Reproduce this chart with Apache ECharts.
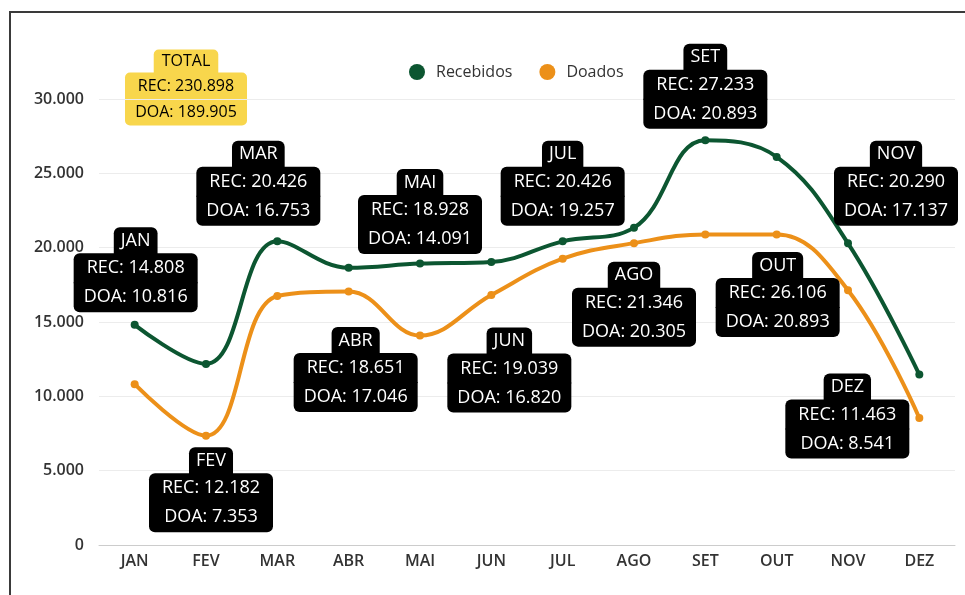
<!DOCTYPE html>
<html>
<head>
    <meta charset="utf-8">
    <title>Recebidos x Doados</title>
    <script src="https://cdn.jsdelivr.net/npm/echarts@6/dist/echarts.min.js"></script>
    <style>
        body { margin: 0; background: #fff; }
    </style>
</head>
<body>
    <div id="main" style="width: 965px;height:595px;"></div>
    <script type="text/javascript">
        var months = ['JAN', 'FEV', 'MAR', 'ABR', 'MAI', 'JUN', 'JUL', 'AGO', 'SET', 'OUT', 'NOV', 'DEZ'];
        var recebidos = [14808, 12182, 20426, 18651, 18928, 19039, 20426, 21346, 27233, 26106, 20290, 11463];
        var doados = [10816, 7353, 16753, 17046, 14091, 16820, 19257, 20305, 20893, 20893, 17137, 8541];

        // onde fica cada etiqueta: série que a carrega, posição, distância, deslocamento
        var labelLayout = [
            { s: 'rec', pos: 'top', d: 9, off: [1, 0] },
            { s: 'doa', pos: 'bottom', d: 8, off: [5, 0] },
            { s: 'rec', pos: 'top', d: 12, off: [-19, 0] },
            { s: 'doa', pos: 'bottom', d: 32, off: [7, 0] },
            { s: 'rec', pos: 'top', d: 6, off: [0, 0] },
            { s: 'doa', pos: 'bottom', d: 29, off: [18, 0] },
            { s: 'rec', pos: 'top', d: 12, off: [0, 0] },
            { s: 'doa', pos: 'bottom', d: 15, off: [0, 0] },
            { s: 'rec', pos: 'top', d: 8, off: [0, 0] },
            { s: 'doa', pos: 'bottom', d: 14, off: [1, 0] },
            { s: 'rec', pos: 'top', d: 14, off: [48, 0] },
            { s: 'doa', pos: 'inside', d: 0, off: [-72, -2] }
        ];

        var GREEN = '#0c5631';
        var ORANGE = '#ec9019';
        var FONT = "'Open Sans', sans-serif";

        function fmt(n) {
            return String(n).replace(/\B(?=(\d{3})+(?!\d))/g, '.');
        }
        function sum(arr) {
            return arr.reduce(function (a, b) { return a + b; }, 0);
        }

        // o fundo de cada linha é 1px mais alto que a linha para não deixar frestas
        var labelRich = {
            h: {
                color: '#fff', fontSize: 18, fontFamily: FONT, lineHeight: 26, height: 27,
                backgroundColor: '#000', padding: [0, 7], borderRadius: [6, 6, 0, 0]
            },
            a: {
                color: '#fff', fontSize: 18, fontFamily: FONT, lineHeight: 29, height: 30, width: 104, align: 'center',
                backgroundColor: '#000', padding: [0, 10], borderRadius: [6, 6, 0, 0]
            },
            b: {
                color: '#fff', fontSize: 18, fontFamily: FONT, lineHeight: 29, height: 30, width: 104, align: 'center',
                backgroundColor: '#000', padding: [0, 10], borderRadius: [0, 0, 6, 6]
            }
        };

        function labelText(p) {
            var i = p.dataIndex;
            return '{h|' + months[i] + '}\n{a|REC: ' + fmt(recebidos[i]) + '}\n{b|DOA: ' + fmt(doados[i]) + '}';
        }

        function buildData(values, key) {
            return values.map(function (v, i) {
                var l = labelLayout[i];
                if (l.s !== key) return v;
                return {
                    value: v,
                    label: { show: true, position: l.pos, distance: l.d, offset: l.off }
                };
            });
        }

        var myChart = echarts.init(document.getElementById('main'));

        var option = {
            animation: false,
            textStyle: { fontFamily: FONT },
            legend: {
                left: 404,
                top: 59,
                icon: 'circle',
                itemWidth: 28,
                itemHeight: 16,
                itemGap: 27,
                textStyle: { fontSize: 16, color: '#333', fontFamily: FONT }
            },
            grid: { left: 99, right: 10, top: 99, bottom: 50 },
            xAxis: {
                type: 'category',
                data: months,
                axisLine: { lineStyle: { color: '#ccc' } },
                axisTick: { show: false },
                axisLabel: { color: '#333', fontSize: 16, fontWeight: 600, margin: 8, fontFamily: FONT }
            },
            yAxis: {
                type: 'value',
                min: 0,
                max: 30000,
                interval: 5000,
                axisLabel: {
                    color: '#333', fontSize: 16, fontWeight: 600, margin: 15, fontFamily: FONT,
                    formatter: function (v) { return fmt(v); }
                },
                splitLine: { lineStyle: { color: '#ececec' } }
            },
            graphic: [
                {
                    type: 'rect',
                    shape: { x: 10, y: 12, width: 1200, height: 800 },
                    style: { fill: 'none', stroke: '#3a3a3a', lineWidth: 2 },
                    silent: true
                },
                {
                    type: 'text',
                    x: 186,
                    y: 50,
                    style: {
                        text: '{t|TOTAL}\n{r|REC: ' + fmt(sum(recebidos)) + '}\n{s|DOA: ' + fmt(sum(doados)) + '}',
                        align: 'center',
                        verticalAlign: 'top',
                        rich: {
                            t: {
                                color: '#5a4a16', fontSize: 16, fontFamily: FONT, lineHeight: 23, height: 24,
                                backgroundColor: '#f8d64c', padding: [0, 8], borderRadius: [5, 5, 0, 0]
                            },
                            r: {
                                color: '#5a4a16', fontSize: 16, fontFamily: FONT, lineHeight: 26, height: 27, width: 102, align: 'center',
                                backgroundColor: '#f8d64c', padding: [0, 10], borderRadius: [5, 5, 0, 0]
                            },
                            s: {
                                color: '#5a4a16', fontSize: 16, fontFamily: FONT, lineHeight: 26, height: 27, width: 102, align: 'center',
                                backgroundColor: '#f8d64c', padding: [0, 10], borderRadius: [0, 0, 5, 5]
                            }
                        }
                    }
                }
            ],
            series: [
                {
                    name: 'Recebidos',
                    type: 'line',
                    smooth: 0.4,
                    data: buildData(recebidos, 'rec'),
                    symbol: 'circle',
                    symbolSize: 8,
                    color: GREEN,
                    lineStyle: { width: 4, color: GREEN },
                    label: { show: false, formatter: labelText, rich: labelRich },
                    z: 3
                },
                {
                    name: 'Doados',
                    type: 'line',
                    smooth: 0.4,
                    data: buildData(doados, 'doa'),
                    symbol: 'circle',
                    symbolSize: 8,
                    color: ORANGE,
                    lineStyle: { width: 4, color: ORANGE },
                    label: { show: false, formatter: labelText, rich: labelRich },
                    z: 2
                }
            ]
        };

        myChart.setOption(option);
    </script>
</body>
</html>
